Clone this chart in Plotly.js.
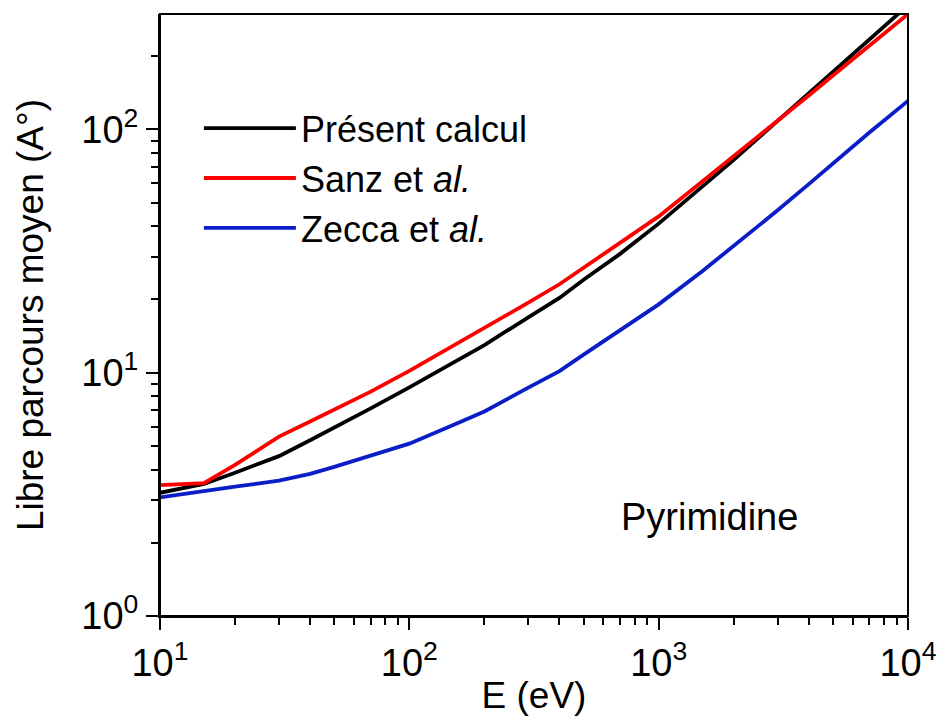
<!DOCTYPE html>
<html>
<head>
<meta charset="utf-8">
<script src="https://cdn.plot.ly/plotly-3.0.1.min.js"></script>
<style>html,body{margin:0;padding:0;background:#fff;}#chart{width:939px;height:716px;}</style>
</head>
<body>
<div id="chart"></div>
<script>
// Energy grid (eV)
var energy = [10, 15, 20, 30, 40, 50, 70, 100, 150, 200, 300, 400, 500, 700, 1000, 1500, 2000, 3000, 4000, 5000, 7000, 10000];
// Mean free path (Å)
var presentCalcul = [3.21, 3.49, 3.88, 4.54, 5.28, 5.94, 7.14, 8.71, 11.0, 12.99, 16.9, 20.3, 24.1, 30.8, 41.0, 58.1, 75.0, 108.5, 140.8, 172.6, 234.5, 324];
var sanz = [3.45, 3.52, 4.18, 5.46, 6.30, 7.05, 8.36, 10.18, 12.9, 15.2, 19.4, 23.1, 27.0, 33.9, 43.9, 61.2, 77.5, 108.4, 138, 166.6, 220.6, 298];
var zecca = [3.07, 3.27, 3.40, 3.60, 3.84, 4.10, 4.56, 5.11, 6.09, 6.93, 8.68, 10.15, 11.87, 14.9, 19.1, 26.2, 33.1, 46.5, 59.6, 72.4, 97.2, 131];

var seriesNames = ['Présent calcul', 'Sanz et <i>al.</i>', 'Zecca et <i>al.</i>'];
var xTickVals = [10, 100, 1000, 10000];
var xTickText = ['10<sup>1</sup>', '10<sup>2</sup>', '10<sup>3</sup>', '10<sup>4</sup>'];
var yTickVals = [1, 10, 100];
var yTickText = ['10<sup>0</sup>', '10<sup>1</sup>', '10<sup>2</sup>'];
var xTitle = 'E (eV)';
var yTitle = 'Libre parcours moyen (A°)';
var label = 'Pyrimidine';

function minorVals(lo, hi) {
  var out = [];
  for (var d = lo; d < hi; d *= 10) {
    for (var k = 2; k <= 9; k++) out.push(k * d);
  }
  return out;
}

var FONT = 'Liberation Sans, Arial, sans-serif';
var colors = ['#000000', '#ff0000', '#0a1ec8'];
var ys = [presentCalcul, sanz, zecca];
var traces = ys.map(function (y, i) {
  return {
    x: energy, y: y, name: seriesNames[i], type: 'scatter', mode: 'lines',
    line: {color: colors[i], width: 3.8}
  };
});

var axisCommon = {
  type: 'log', showgrid: false, zeroline: false,
  showline: true, linecolor: '#000', linewidth: 2, mirror: false,
  ticks: 'outside', ticklen: 12, tickwidth: 2, tickcolor: '#000',
  tickmode: 'array',
  tickfont: {family: FONT, size: 38, color: '#000'}
};

var layout = {
  width: 939, height: 716,
  margin: {l: 160, r: 31, t: 14, b: 100},
  paper_bgcolor: '#fff', plot_bgcolor: '#fff',
  font: {family: FONT, size: 38, color: '#000'},
  xaxis: Object.assign({}, axisCommon, {
    range: [1, 4],
    tickvals: xTickVals, ticktext: xTickText,
    minor: {tickmode: 'array', tickvals: minorVals(10, 10000), ticks: 'outside', ticklen: 7, tickwidth: 2, tickcolor: '#000', showgrid: false},
    title: {text: xTitle, font: {family: FONT, size: 37, color: '#000'}, standoff: 4}
  }),
  yaxis: Object.assign({}, axisCommon, {
    range: [0, 2.4745],
    tickvals: yTickVals, ticktext: yTickText,
    minor: {tickmode: 'array', tickvals: minorVals(1, 1000), ticks: 'outside', ticklen: 7, tickwidth: 2, tickcolor: '#000', showgrid: false},
    title: {text: yTitle, font: {family: FONT, size: 37, color: '#000'}, standoff: 26}
  }),
  shapes: [{
    type: 'rect', xref: 'paper', yref: 'paper', x0: 0, x1: 1, y0: 0, y1: 1,
    line: {color: '#000', width: 2}, fillcolor: 'rgba(0,0,0,0)', layer: 'above'
  }],
  showlegend: true,
  legend: {
    x: 0.052, y: 0.86, xanchor: 'left', yanchor: 'top',
    bgcolor: 'rgba(0,0,0,0)', borderwidth: 0,
    font: {family: FONT, size: 36, color: '#000'},
    itemwidth: 92, tracegroupgap: 0
  },
  annotations: [{
    xref: 'paper', yref: 'paper', x: 0.734, y: 0.1645,
    text: label, showarrow: false, xanchor: 'center', yanchor: 'middle',
    font: {family: FONT, size: 38, color: '#000'}
  }]
};

Plotly.newPlot('chart', traces, layout, {staticPlot: true, displayModeBar: false});
</script>
</body>
</html>
